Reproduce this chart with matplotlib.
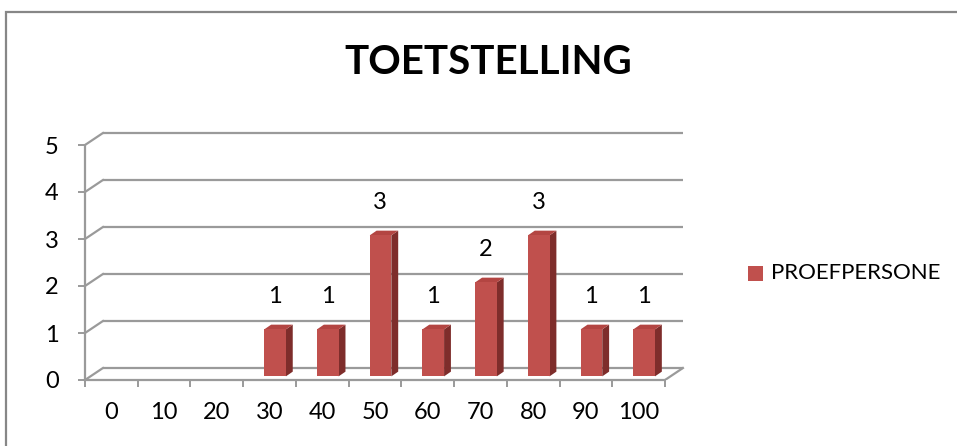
import matplotlib.pyplot as plt
from matplotlib.patches import Polygon, Rectangle
from matplotlib.lines import Line2D
import numpy as np

# --- DATA ---
categories = ['0', '10', '20', '30', '40', '50', '60', '70', '80', '90', '100']
counts = [0, 0, 0, 1, 1, 3, 1, 2, 3, 1, 1]
series_name = 'PROEFPERSONE'
title = 'TOETSTELLING'
y_ticks = [0, 1, 2, 3, 4, 5]

# --- STYLE ---
FONT = 'Lato'
FS = 17
GRID = '#9a9a9a'
FRONT = '#C0504D'
SIDE = '#7E2D2B'
TOP = '#B34542'

# depth of the wall box and of each bar (data units)
DX, DY = 0.34, 0.255
BDX, BDY = 0.13, 0.10
BAR_W = 0.41

W, H = 957, 446
fig = plt.figure(figsize=(W / 100, H / 100), dpi=100)

# chart area frame (runs off the right and bottom edges)
fig.add_artist(Rectangle((5.5 / W, -0.1), 1.2, (H - 12) / H + 0.1,
                         transform=fig.transFigure, fill=False,
                         edgecolor='#878787', lw=1.6))

n = len(categories)
x0, x1 = -0.5, n - 0.5
px_per_x = (665 - 85) / n
px_per_y = (380 - 145) / 5
xmax = x1 + 0.5
ymax = 5.4
left = 85 / W
right = (85 + (xmax - x0) * px_per_x) / W
bottom = (H - 380) / H
top = (H - (380 - ymax * px_per_y)) / H
ax = fig.add_axes([left, bottom, right - left, top - bottom])
ax.set_xlim(x0, xmax)
ax.set_ylim(0, ymax)
ax.patch.set_visible(False)

# back wall gridlines and the diagonals joining them to the front axis
for v in y_ticks:
    ax.add_line(Line2D([x0 + DX, x1 + DX], [v + DY, v + DY], color=GRID, lw=1.6,
                       solid_capstyle='butt', zorder=1))
    ax.add_line(Line2D([x0, x0 + DX], [v, v + DY], color=GRID, lw=1.6, zorder=1))
# floor right edge
ax.add_line(Line2D([x1, x1 + DX], [0, DY], color=GRID, lw=1.6, zorder=1))

# front axes
for s in ['top', 'right']:
    ax.spines[s].set_visible(False)
ax.spines['left'].set_bounds(0, 5)
ax.spines['bottom'].set_bounds(x0, x1)
for s in ['left', 'bottom']:
    ax.spines[s].set_color(GRID)
    ax.spines[s].set_linewidth(1.6)
    ax.spines[s].set_zorder(5)

ax.set_yticks(y_ticks)
ax.set_yticklabels([str(v) for v in y_ticks], fontsize=FS, family=FONT)
ax.tick_params(axis='y', length=5, width=1.4, color=GRID, pad=14)

ax.set_xticks(np.arange(x0, x1 + 0.01, 1.0))
ax.set_xticklabels([])
ax.set_xticks(np.arange(n), minor=True)
ax.set_xticklabels(categories, minor=True, fontsize=FS, family=FONT)
ax.tick_params(axis='x', which='major', length=5, width=1.4, color=GRID)
ax.tick_params(axis='x', which='minor', length=0, pad=16)

# pseudo-3D columns: front face, right side, top
sx = (DX - BDX) / 2
sy = (DY - BDY) / 2
for i, v in enumerate(counts):
    if v <= 0:
        continue
    xl = i - BAR_W / 2 + sx
    xr = xl + BAR_W
    yb = sy
    yt = v + sy
    ax.add_patch(Polygon([(xr, yb), (xr + BDX, yb + BDY), (xr + BDX, yt + BDY), (xr, yt)],
                         closed=True, facecolor=SIDE, edgecolor='none', zorder=3))
    ax.add_patch(Polygon([(xl, yt), (xr, yt), (xr + BDX, yt + BDY), (xl + BDX, yt + BDY)],
                         closed=True, facecolor=TOP, edgecolor='none', zorder=3))
    ax.add_patch(Rectangle((xl, yb), BAR_W, v, facecolor=FRONT, edgecolor='none', zorder=4))
    ax.text(i + 0.1, v + 0.78, str(v), ha='center', va='center',
            fontsize=FS, family=FONT, zorder=6)

# title
fig.text(488 / W, 1 - 63 / H, title, ha='center', va='center',
         fontsize=29, fontweight='bold', family=FONT)

# legend
fig.add_artist(Rectangle((748 / W, 1 - 281 / H), 15 / W, 15 / H,
                         transform=fig.transFigure, facecolor=FRONT, edgecolor='none'))
fig.text(771 / W, 1 - 273 / H, series_name, ha='left', va='center',
         fontsize=16, family=FONT)

fig.savefig('out.png', dpi=100)
